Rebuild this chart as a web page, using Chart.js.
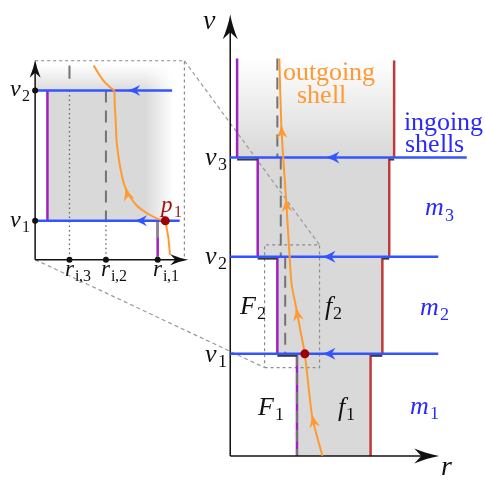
<!DOCTYPE html>
<html>
<head>
<meta charset="utf-8">
<script src="https://cdn.jsdelivr.net/npm/chart.js@4.4.0/dist/chart.umd.min.js"></script>
<style>
  @font-face { font-family: 'CMLike'; font-style: normal; src: local('Liberation Serif'), local('LiberationSerif'); }
  @font-face { font-family: 'CMLike'; font-style: italic; src: local('Liberation Serif Italic'), local('LiberationSerif-Italic'); }
  html, body { margin: 0; padding: 0; background: #fff; }
  #wrap { position: relative; width: 485px; height: 481px; overflow: hidden; }
  canvas { position: absolute; left: 0; top: 0; }
</style>
</head>
<body>
<div id="wrap">
  <canvas id="mainChart" width="485" height="481"></canvas>
  <canvas id="insetChart" width="210" height="300"></canvas>
</div>
<script>
// ---- main diagram, (r, v) ----
const shellV = [1.04, 2.03, 3.04];          // ingoing shells v1, v2, v3
const shellEndR = [2.12, 2.12, 2.41];
const shellArrowR = [0.93, 0.93, 0.97];
const bandTopV = 4.05;
const redTopV = 4.03;
const innerR = [0.68, 0.48, 0.28, 0.07];     // purple edge, band by band from the bottom
const outerR = [1.43, 1.55, 1.62, 1.67];     // red edge
const horizonR = [0.68, 0.56, 0.515, 0.48];  // dashed gray
const outR = [0.94, 0.87, 0.83, 0.76, 0.72, 0.67, 0.625, 0.605, 0.57, 0.54, 0.52, 0.50];
const outV = [0.00, 0.25, 0.43, 1.04, 1.25, 1.52, 1.75, 2.03, 2.60, 3.04, 3.38, 4.05];
const outArrowV = [0.43, 1.52, 2.63, 3.38];
const massSubs = ['1', '2', '3'];
const zoomBox = { r0: 0.35, r1: 0.91, v0: 0.90, v1: 2.15 };

// ---- inset, (r, v) ----
const insetV = [1.04, 2.03];
const insetEndR = [0.791, 0.773];
const insetArrowR = [0.683, 0.667];
const insetRi = [0.739, 0.617, 0.531];     // r_{i,1}, r_{i,2}, r_{i,3}
const insetInnerR = 0.479;
const insetTopR = [0.588, 0.610, 0.626, 0.637];
const insetTopV = [2.219, 2.109, 2.057, 2.03];
const insetMidR = [0.637, 0.638, 0.640, 0.642, 0.646, 0.653, 0.664, 0.689, 0.721, 0.746, 0.757];
const insetMidV = [2.03, 1.910, 1.799, 1.652, 1.541, 1.408, 1.283, 1.158, 1.084, 1.047, 1.04];
const insetLowR = [0.757, 0.764, 0.768];
const insetLowV = [1.04, 0.915, 0.782];
const insetArrowV = 1.298;
const insetBox = { r0: 0.45, r1: 0.802, v0: 0.745, v1: 2.256 };

const BLUE = '#3355ff', TXTBLUE = '#2a2aff', ORANGE = '#ff9a33', PURPLE = '#a020c0',
      RED = '#bf3a3a', DOT = '#a00000', GRAYL = '#737373', AX = '#111';
const SERIF = 'CMLike, "Liberation Serif", "DejaVu Serif", serif';

const P = (x, y) => ({ x, y });
function seg(pts, color, width, extra) {
  return Object.assign({ data: pts, showLine: true, borderColor: color, borderWidth: width,
    pointRadius: 0, pointHoverRadius: 0, fill: false, tension: 0, clip: false }, extra || {});
}
function stack(sets) { sets.forEach((d, i) => d.order = sets.length - i); return sets; }

function arrowHead(ctx, x, y, ang, len, half, color) {
  ctx.save();
  ctx.translate(x, y); ctx.rotate(ang);
  ctx.beginPath();
  ctx.moveTo(0, 0);
  ctx.quadraticCurveTo(-len * 0.45, half * 0.25, -len, half);
  ctx.lineTo(-len * 0.72, 0);
  ctx.lineTo(-len, -half);
  ctx.quadraticCurveTo(-len * 0.45, -half * 0.25, 0, 0);
  ctx.fillStyle = color; ctx.fill();
  ctx.restore();
}
function alongCurve(rs, vs, v) {
  for (let k = 0; k < vs.length - 1; k++) {
    const a = vs[k], b = vs[k + 1];
    if ((v - a) * (v - b) <= 0) {
      const t = (v - a) / (b - a);
      return { r: rs[k] + t * (rs[k + 1] - rs[k]), k };
    }
  }
  return { r: rs[rs.length - 1], k: rs.length - 2 };
}
// arrow on the outgoing shell, always pointing towards later v
function curveArrow(ctx, px, py, rs, vs, v, len, half) {
  const { r, k } = alongCurve(rs, vs, v);
  let ang = Math.atan2(py(vs[k + 1]) - py(vs[k]), px(rs[k + 1]) - px(rs[k]));
  if (vs[k + 1] < vs[k]) ang += Math.PI;
  arrowHead(ctx, px(r), py(v), ang, len, half, ORANGE);
}
// italic base letter with a smaller upright subscript; align: left | right | base (centre of base letter)
function mathLabel(ctx, x, y, base, sub, size, color, align) {
  ctx.save();
  ctx.fillStyle = color;
  const bf = `italic ${size}px ${SERIF}`;
  const sf = `${Math.round(size * 0.68)}px ${SERIF}`;
  ctx.font = bf;
  const wb = ctx.measureText(base).width;
  ctx.font = sf;
  const ws = sub ? ctx.measureText(sub).width : 0;
  const total = wb + (sub ? ws + 1 : 0);
  let x0 = x;
  if (align === 'right') x0 = x - total;
  if (align === 'base') x0 = x - wb / 2;
  ctx.font = bf; ctx.fillText(base, x0, y);
  if (sub) { ctx.font = sf; ctx.fillText(sub, x0 + wb + 1, y + size * 0.2); }
  ctx.restore();
}
function plainText(ctx, x, y, s, size, color) {
  ctx.save(); ctx.fillStyle = color; ctx.font = `${size}px ${SERIF}`; ctx.fillText(s, x, y); ctx.restore();
}
function fixedScales(xr, yr) {
  return {
    x: { type: 'linear', min: xr[0], max: xr[1], display: false },
    y: { type: 'linear', min: yr[0], max: yr[1], display: false }
  };
}

function build() {
// ================= inset =================
const insetPxR = 443, insetPxV = 135.7;
const insetXr = [insetBox.r0 - 32 / insetPxR, insetBox.r0 - 32 / insetPxR + 210 / insetPxR];
const insetYr = [insetV[0] - 77 / insetPxV, insetV[0] + 223 / insetPxV];
const insetAxisTip = { r: 0.811, v: 2.263 };

const insetSets = [];
insetSets.push(seg([P(insetBox.r0, insetBox.v1), P(insetBox.r1, insetBox.v1), P(insetBox.r1, insetBox.v0)], '#8c8c8c', 1.2, { borderDash: [3, 3] }));
insetSets.push(seg([P(insetRi[2], insetV[1]), P(insetRi[2], insetBox.v0)], '#666', 1.3, { borderDash: [1.5, 3] }));
insetSets.push(seg([P(insetRi[1], insetV[0]), P(insetRi[1], insetBox.v0)], '#666', 1.3, { borderDash: [1.5, 3] }));
insetSets.push(seg([P(insetRi[2], 2.22), P(insetRi[2], 2.12)], GRAYL, 2));
insetSets.push(seg([P(insetRi[1], insetV[1]), P(insetRi[1], insetV[0])], GRAYL, 2, { borderDash: [12, 8] }));
insetSets.push(seg([P(insetInnerR, insetV[0]), P(insetInnerR, insetV[1])], PURPLE, 2.5));
insetSets.push(seg([P(insetRi[0], insetV[0]), P(insetRi[0], insetBox.v0)], PURPLE, 2.5));
insetSets.push(seg([P(insetRi[0], insetV[0]), P(insetRi[0], insetBox.v0)], '#8a8a8a', 2.5, { borderDash: [17, 18] }));
insetSets.push(seg([P(insetBox.r0, insetBox.v0), P(insetAxisTip.r - 0.02, insetBox.v0)], AX, 1.5));
insetSets.push(seg([P(insetBox.r0, insetBox.v0), P(insetBox.r0, insetAxisTip.v - 0.06)], AX, 1.5));
insetV.forEach((v, i) => insetSets.push(seg([P(insetBox.r0, v), P(insetEndR[i], v)], BLUE, 2.5)));
insetSets.push(seg(insetTopR.map((r, i) => P(r, insetTopV[i])), ORANGE, 2, { tension: 0.3 }));
insetSets.push(seg(insetMidR.map((r, i) => P(r, insetMidV[i])), ORANGE, 2, { tension: 0.35 }));
insetSets.push(seg(insetLowR.map((r, i) => P(r, insetLowV[i])), ORANGE, 2, { tension: 0.3 }));
insetSets.push({ data: [P(insetLowR[0], insetLowV[0])], showLine: false, pointRadius: 4.5, pointHoverRadius: 4.5,
  backgroundColor: DOT, borderWidth: 0 });
insetSets.push({ data: insetV.map(v => P(insetBox.r0, v)).concat(insetRi.map(r => P(r, insetBox.v0))),
  showLine: false, pointRadius: 3, pointHoverRadius: 3, backgroundColor: AX, borderWidth: 0 });

const insetDecor = {
  id: 'insetDecor',
  beforeDatasetsDraw(chart) {
    const { ctx, scales } = chart;
    const px = r => scales.x.getPixelForValue(r), py = v => scales.y.getPixelForValue(v);
    const f0 = px(0.71), f1 = px(0.777);
    const hg = ctx.createLinearGradient(f0, 0, f1, 0);
    hg.addColorStop(0, 'rgba(217,217,217,1)');
    hg.addColorStop(1, 'rgba(217,217,217,0)');
    ctx.save();
    ctx.fillStyle = hg;
    ctx.fillRect(px(insetInnerR), py(insetV[1]), f1 - px(insetInnerR), py(insetV[0]) - py(insetV[1]));
    const top = py(insetBox.v1), mid = py(insetV[1]);
    ctx.fillRect(px(insetBox.r0), top, f1 - px(insetBox.r0), mid - top);
    ctx.globalCompositeOperation = 'destination-out';
    const vg = ctx.createLinearGradient(0, top + 4, 0, mid + 2);
    vg.addColorStop(0, 'rgba(0,0,0,1)');
    vg.addColorStop(1, 'rgba(0,0,0,0)');
    ctx.fillStyle = vg;
    ctx.fillRect(px(insetBox.r0), top, f1 - px(insetBox.r0), mid - top);
    ctx.restore();
  },
  afterDatasetsDraw(chart) {
    const { ctx, scales } = chart;
    const px = r => scales.x.getPixelForValue(r), py = v => scales.y.getPixelForValue(v);
    arrowHead(ctx, px(insetAxisTip.r), py(insetBox.v0), 0, 18, 5.5, AX);
    arrowHead(ctx, px(insetBox.r0), py(insetAxisTip.v), -Math.PI / 2, 18, 5.5, AX);
    insetV.forEach((v, i) => arrowHead(ctx, px(insetArrowR[i]), py(v), Math.PI, 13, 5.5, BLUE));
    curveArrow(ctx, px, py, insetMidR, insetMidV, insetArrowV, 14, 5.5);
    insetV.forEach((v, i) => mathLabel(ctx, px(0.4387), py(v) + 6, 'v', String(i + 1), 24, AX, 'right'));
    mathLabel(ctx, px(0.746), py(1.106), 'p', '1', 23, '#9b1111', 'left');
    insetRi.forEach((r, i) => mathLabel(ctx, px(r), py(0.62), 'r', 'i,' + (i + 1), 23, AX, 'base'));
  }
};

const insetChart = new Chart(document.getElementById('insetChart'), {
  type: 'scatter',
  data: { datasets: stack(insetSets) },
  options: {
    responsive: false, animation: false, events: [],
    layout: { padding: 0 },
    plugins: { legend: { display: false }, tooltip: { enabled: false } },
    scales: fixedScales(insetXr, insetYr)
  },
  plugins: [insetDecor]
});

// ================= main =================
const axisTip = { r: 2.13, v: 4.50 };
const edges = [0, ...shellV, bandTopV];
const v1Index = outV.indexOf(shellV[0]);

const mainSets = [];
mainSets.push(seg([P(zoomBox.r0, zoomBox.v0), P(zoomBox.r1, zoomBox.v0), P(zoomBox.r1, zoomBox.v1),
  P(zoomBox.r0, zoomBox.v1), P(zoomBox.r0, zoomBox.v0)], '#8c8c8c', 1.2, { borderDash: [3, 3] }));
outerR.forEach((r, i) => mainSets.push(seg([P(r, edges[i]), P(r, i === outerR.length - 1 ? redTopV : edges[i + 1])], RED, 2.5)));
innerR.forEach((r, i) => mainSets.push(seg([P(r, edges[i]), P(r, edges[i + 1])], PURPLE, 2.5)));
horizonR.forEach((r, i) => mainSets.push(seg([P(r, edges[i + 1]), P(r, edges[i])], GRAYL, 2, { borderDash: [12, 7] })));
shellV.forEach((v, i) => {
  mainSets.push(seg([P(outerR[i], v - 0.02), P(outerR[i + 1], v - 0.02)], '#3a3a3a', 2));
  mainSets.push(seg([P(innerR[i + 1], v - 0.02), P(innerR[i], v - 0.02)], '#3a3a3a', 2));
});
mainSets.push(seg([P(0, 0), P(axisTip.r - 0.05, 0)], AX, 1.5));
mainSets.push(seg([P(0, 0), P(0, axisTip.v - 0.1)], AX, 1.5));
shellV.forEach((v, i) => mainSets.push(seg([P(0, v), P(shellEndR[i], v)], BLUE, 2.5)));
mainSets.push(seg(outR.map((r, i) => P(r, outV[i])), ORANGE, 2, { tension: 0.25 }));
mainSets.push({ data: [P(outR[v1Index], outV[v1Index])], showLine: false, pointRadius: 4.5, pointHoverRadius: 4.5,
  backgroundColor: DOT, borderWidth: 0 });

const mainDecor = {
  id: 'mainDecor',
  beforeDatasetsDraw(chart) {
    const { ctx, scales } = chart;
    const px = r => scales.x.getPixelForValue(r), py = v => scales.y.getPixelForValue(v);
    ctx.save();
    innerR.forEach((r0, i) => {
      const top = py(edges[i + 1]), bot = py(edges[i]);
      if (i === innerR.length - 1) {
        const g = ctx.createLinearGradient(0, bot, 0, top);
        g.addColorStop(0, '#d8d8d8');
        g.addColorStop(1, '#ffffff');
        ctx.fillStyle = g;
      } else {
        ctx.fillStyle = '#d9d9d9';
      }
      ctx.fillRect(px(r0), top, px(outerR[i]) - px(r0), bot - top);
    });
    // dashed lines joining the inset frame to the zoom box
    const ix = insetChart.scales.x, iy = insetChart.scales.y;
    ctx.strokeStyle = '#9a9a9a'; ctx.lineWidth = 1.2; ctx.setLineDash([4, 3]);
    ctx.beginPath();
    ctx.moveTo(ix.getPixelForValue(insetBox.r1), iy.getPixelForValue(insetBox.v1));
    ctx.lineTo(px(zoomBox.r1), py(zoomBox.v1));
    ctx.moveTo(ix.getPixelForValue(insetBox.r0), iy.getPixelForValue(insetBox.v0));
    ctx.lineTo(px(zoomBox.r0), py(zoomBox.v0));
    ctx.stroke();
    ctx.restore();
  },
  afterDatasetsDraw(chart) {
    const { ctx, scales } = chart;
    const px = r => scales.x.getPixelForValue(r), py = v => scales.y.getPixelForValue(v);
    arrowHead(ctx, px(axisTip.r), py(0), 0, 25, 7.5, AX);
    arrowHead(ctx, px(0), py(axisTip.v), -Math.PI / 2, 25, 7.5, AX);
    shellV.forEach((v, i) => arrowHead(ctx, px(shellArrowR[i]), py(v), Math.PI, 14, 6, BLUE));
    outArrowV.forEach(v => curveArrow(ctx, px, py, outR, outV, v, 14, 5.5));

    mathLabel(ctx, px(-0.28), py(4.35), 'v', '', 28, AX, 'left');
    mathLabel(ctx, px(2.15), py(-0.19), 'r', '', 28, AX, 'left');
    shellV.forEach((v, i) => mathLabel(ctx, px(-0.03), py(v) + (i === 0 ? 8 : 7), 'v', String(i + 1), 26, AX, 'right'));
    const massAt = [[1.83, 0.43], [1.93, 1.44], [1.98, 2.45]];
    massSubs.forEach((s, i) => mathLabel(ctx, px(massAt[i][0]), py(massAt[i][1]), 'm', s, 26, TXTBLUE, 'left'));
    mathLabel(ctx, px(0.10), py(1.45), 'F', '2', 26, AX, 'left');
    mathLabel(ctx, px(0.97), py(1.45), 'f', '2', 26, AX, 'left');
    mathLabel(ctx, px(0.28), py(0.42), 'F', '1', 26, AX, 'left');
    mathLabel(ctx, px(1.10), py(0.42), 'f', '1', 26, AX, 'left');
    plainText(ctx, px(0.54), py(3.83), 'outgoing', 26, ORANGE);
    plainText(ctx, px(0.68), py(3.60), 'shell', 26, ORANGE);
    plainText(ctx, px(1.77), py(3.32), 'ingoing', 26, TXTBLUE);
    plainText(ctx, px(1.78), py(3.10), 'shells', 26, TXTBLUE);
  }
};

new Chart(document.getElementById('mainChart'), {
  type: 'scatter',
  data: { datasets: stack(mainSets) },
  options: {
    responsive: false, animation: false, events: [],
    layout: { padding: 0 },
    plugins: { legend: { display: false }, tooltip: { enabled: false } },
    scales: fixedScales([-2.3, 2.55], [-0.21, 4.6])
  },
  plugins: [mainDecor]
});
}

Promise.all([
  document.fonts.load('26px CMLike'),
  document.fonts.load('italic 26px CMLike')
]).catch(() => null).then(build);
</script>
</body>
</html>
